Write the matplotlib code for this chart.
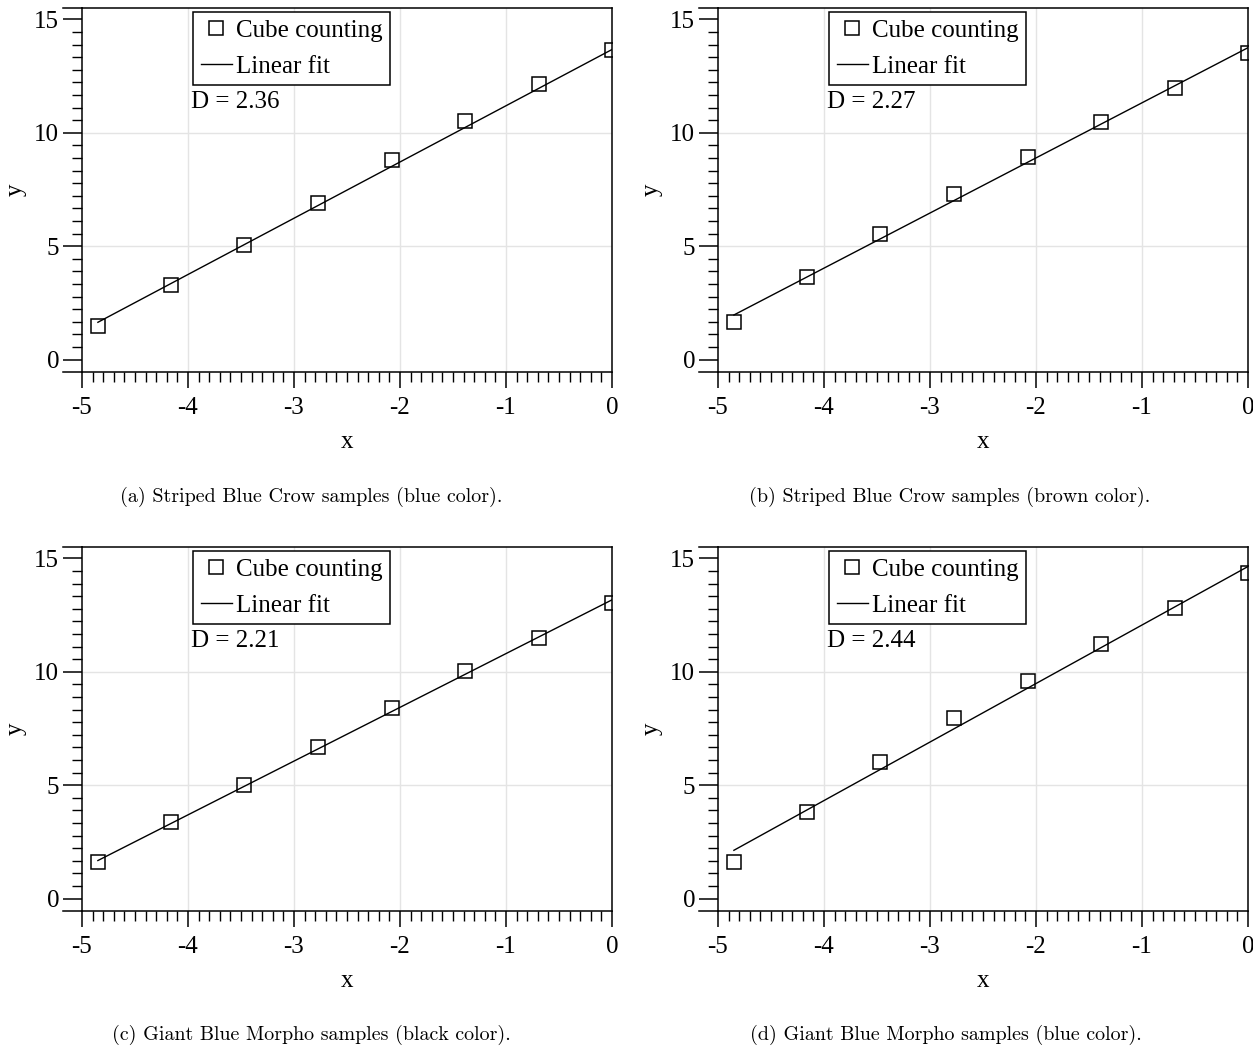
import matplotlib.pyplot as plt
from matplotlib.ticker import MultipleLocator, AutoMinorLocator
import numpy as np

plt.rcParams['font.family'] = ['Liberation Serif', 'DejaVu Serif']
plt.rcParams['font.size'] = 18
plt.rcParams['axes.unicode_minus'] = False

# log of box size (same for every panel)
log_size = [-4.85, -4.16, -3.47, -2.77, -2.08, -1.39, -0.69, 0.0]

# log of counted cubes, one list per panel
count_a = [1.50, 3.28, 5.03, 6.92, 8.80, 10.52, 12.15, 13.67]
count_b = [1.65, 3.65, 5.54, 7.29, 8.92, 10.49, 11.98, 13.53]
count_c = [1.61, 3.36, 5.02, 6.70, 8.41, 10.02, 11.48, 13.05]
count_d = [1.61, 3.80, 6.00, 7.95, 9.58, 11.24, 12.80, 14.34]
counts = [count_a, count_b, count_c, count_d]

# fitted lines
fit_slope = [2.48, 2.43, 2.37, 2.58]
fit_icpt = [13.67, 13.75, 13.17, 14.64]
dims = ['2.36', '2.27', '2.21', '2.44']

captions = [
    '(a) Striped Blue Crow samples (blue color).',
    '(b) Striped Blue Crow samples (brown color).',
    '(c) Giant Blue Morpho samples (black color).',
    '(d) Giant Blue Morpho samples (blue color).',
]

W, H = 1253, 1047
fig = plt.figure(figsize=(W / 100, H / 100), dpi=100)

# axes boxes in pixels: left, top, right, bottom
boxes = [(82, 8, 612, 372), (718, 8, 1248, 372),
         (82, 547, 612, 911), (718, 547, 1248, 911)]
cap_pos = [(311, 497), (950, 497), (311, 1035), (946, 1035)]

for i, (l, t, r, b) in enumerate(boxes):
    ax = fig.add_axes([l / W, 1 - b / H, (r - l) / W, (b - t) / H])
    ax.set_xlim(-5, 0)
    ax.set_ylim(-0.55, 15.5)

    for v in [-4, -3, -2, -1]:
        ax.axvline(v, color='#e4e4e4', lw=1.0, zorder=0)
    for v in [5, 10]:
        ax.axhline(v, color='#e4e4e4', lw=1.0, zorder=0)

    ax.plot(log_size, counts[i], 's', mfc='none', mec='k', ms=10, mew=1.1,
            label='Cube counting')
    xs = np.array([log_size[0], log_size[-1]])
    ax.plot(xs, fit_slope[i] * xs + fit_icpt[i], 'k-', lw=1.0, label='Linear fit')

    for s in ax.spines.values():
        s.set_linewidth(1.1)
    # top and bottom lines run a bit left of the y axis
    for yy in [0, 1]:
        ax.plot([-0.036, 0], [yy, yy], transform=ax.transAxes, clip_on=False,
                color='k', lw=1.1)

    ax.xaxis.set_major_locator(MultipleLocator(1))
    ax.xaxis.set_minor_locator(MultipleLocator(0.1))
    ax.yaxis.set_major_locator(MultipleLocator(5))
    ax.yaxis.set_minor_locator(AutoMinorLocator(9))
    ax.tick_params(axis='x', which='major', direction='out', length=11.3, width=1.1, pad=7)
    ax.tick_params(axis='x', which='minor', direction='out', length=7.2, width=1.0)
    ax.tick_params(axis='y', which='major', direction='out', length=13.5, width=1.1, pad=3)
    ax.tick_params(axis='y', which='minor', direction='out', length=7.2, width=1.0)

    ax.set_xlabel('x', labelpad=8)
    ax.set_ylabel('y', labelpad=5)

    leg = ax.legend(loc='upper left', bbox_to_anchor=(0.21, 0.99), borderaxespad=0,
                    frameon=True, fancybox=False, framealpha=1, edgecolor='k',
                    handlelength=1.25, handletextpad=0.15, borderpad=0.3,
                    labelspacing=0.55, numpoints=1)
    leg.get_frame().set_linewidth(1.1)

    ax.text(0.206, 0.742, 'D = ' + dims[i], transform=ax.transAxes,
            ha='left', va='center')

    fig.text(cap_pos[i][0] / W, 1 - cap_pos[i][1] / H, captions[i],
             ha='center', va='center', family='cmr10', fontsize=14.4)

plt.savefig('out.png', dpi=100)
